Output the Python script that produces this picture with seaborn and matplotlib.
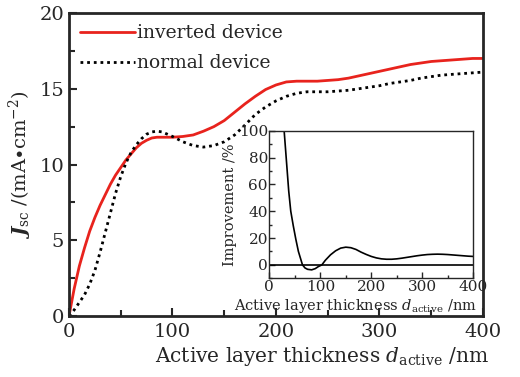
import numpy as np
import pandas as pd
import seaborn as sns
import matplotlib.pyplot as plt
from matplotlib.ticker import MultipleLocator

# thickness (nm) and Jsc (mA/cm2)
thick = [0, 5, 10, 15, 20, 25, 30, 35, 40, 45, 50, 55, 60, 65, 70, 75, 80, 85, 90, 95,
         100, 110, 120, 130, 140, 150, 160, 170, 180, 190, 200, 210, 220, 230, 240, 250,
         260, 270, 280, 290, 300, 310, 320, 330, 340, 350, 360, 370, 380, 390, 400]
jsc_inverted = [0, 1.8, 3.3, 4.5, 5.6, 6.5, 7.3, 8.0, 8.7, 9.3, 9.8, 10.3, 10.7, 11.1, 11.4, 11.6, 11.75, 11.8, 11.8, 11.8,
                11.8, 11.85, 11.95, 12.2, 12.5, 12.9, 13.45, 14.0, 14.5, 14.95, 15.25, 15.45, 15.5, 15.5, 15.5, 15.55,
                15.6, 15.7, 15.85, 16.0, 16.15, 16.3, 16.45, 16.6, 16.7, 16.8, 16.85, 16.9, 16.95, 17.0, 17.0]
jsc_normal = [0, 0.4, 0.9, 1.4, 2.1, 3.0, 4.2, 5.5, 6.8, 8.1, 9.2, 10.1, 10.8, 11.3, 11.7, 12.0, 12.15, 12.2, 12.15, 12.0,
              11.85, 11.5, 11.25, 11.15, 11.25, 11.5, 11.95, 12.6, 13.3, 13.8, 14.2, 14.5, 14.7, 14.8, 14.8, 14.8,
              14.85, 14.9, 15.0, 15.1, 15.2, 15.35, 15.45, 15.55, 15.7, 15.8, 15.9, 15.95, 16.0, 16.05, 16.1]

# inset: improvement (%)
thick_imp = [29, 32, 35, 38, 42, 47, 52, 57, 61, 65, 70, 75, 83, 90, 96, 103, 110, 120, 130, 140,
             150, 160, 170, 180, 190, 200, 210, 220, 230, 240, 250, 260, 270, 280, 290, 300,
             310, 320, 330, 340, 350, 360, 370, 380, 390, 400]
improvement = [100, 85, 70, 55, 40, 29, 19, 10, 5, 0, -2.3, -3.3, -3.7, -2.8, -1.3, 0, 3.5, 7.5, 10.5, 12.5,
               13.2, 12.8, 11.5, 9.5, 7.8, 6.3, 5.2, 4.5, 4.2, 4.2, 4.5, 5.0, 5.6, 6.2, 6.8, 7.3,
               7.7, 7.9, 8.0, 7.9, 7.7, 7.4, 7.1, 6.8, 6.5, 6.3]

sns.set_theme(style='ticks')
plt.rcParams['font.family'] = ['DejaVu Serif']
plt.rcParams['mathtext.fontset'] = 'dejavuserif'
plt.rcParams['xtick.direction'] = 'in'
plt.rcParams['ytick.direction'] = 'in'

df = pd.DataFrame({'d': thick, 'inv': jsc_inverted, 'nor': jsc_normal})
dfi = pd.DataFrame({'d': thick_imp, 'imp': improvement})

fig = plt.figure(figsize=(5.2, 3.77), dpi=100)
ax = fig.add_axes([0.1327, 0.1618, 0.7961, 0.8037])

sns.lineplot(data=df, x='d', y='inv', ax=ax, color='#e8231d', lw=2, label='inverted device')
sns.lineplot(data=df, x='d', y='nor', ax=ax, color='black', lw=2, ls=(0, (1, 1.4)), label='normal device')

ax.set_xlim(0, 400)
ax.set_ylim(0, 20)
ax.xaxis.set_major_locator(MultipleLocator(100))
ax.xaxis.set_minor_locator(MultipleLocator(50))
ax.yaxis.set_major_locator(MultipleLocator(5))
ax.yaxis.set_minor_locator(MultipleLocator(2.5))
ax.tick_params(which='both', labelsize=14, width=1.5, top=False, right=False)
ax.tick_params(which='major', length=6)
ax.tick_params(which='minor', length=4)
ax.tick_params(axis='x', pad=5)
for s in ax.spines.values():
    s.set_linewidth(2)
ax.set_xlabel(r'Active layer thickness $d_{\rm active}$ /nm', fontsize=14.5, labelpad=0)
ax.xaxis.set_label_coords(0.61, -0.097)
ax.set_ylabel(r'$\boldsymbol{J}_{\rm sc}$ /(mA$\bullet$cm$^{-2}$)', fontsize=14, labelpad=4)
ax.legend(loc='upper left', frameon=False, fontsize=13.5, handlelength=2.9, handletextpad=0.15,
          borderaxespad=0.2, labelspacing=0.65)

# inset
axi = fig.add_axes([0.518, 0.2618, 0.392, 0.3915])
sns.lineplot(data=dfi, x='d', y='imp', ax=axi, color='black', lw=1.2)
axi.axhline(0, color='black', lw=1.2)
axi.set_xlim(0, 400)
axi.set_ylim(-10, 100)
axi.xaxis.set_major_locator(MultipleLocator(100))
axi.xaxis.set_minor_locator(MultipleLocator(50))
axi.yaxis.set_major_locator(MultipleLocator(20))
axi.yaxis.set_minor_locator(MultipleLocator(10))
axi.tick_params(which='both', labelsize=11, width=1, pad=1, top=False, right=False)
axi.tick_params(which='major', length=4)
axi.tick_params(which='minor', length=2.5)
for s in axi.spines.values():
    s.set_linewidth(1)
axi.set_xlabel(r'Active layer thickness $d_{\rm active}$ /nm', fontsize=10.5)
axi.xaxis.set_label_coords(0.42, -0.125)
axi.set_ylabel('Improvement /%', fontsize=10.5, labelpad=1)

fig.savefig('out.png', dpi=100)
